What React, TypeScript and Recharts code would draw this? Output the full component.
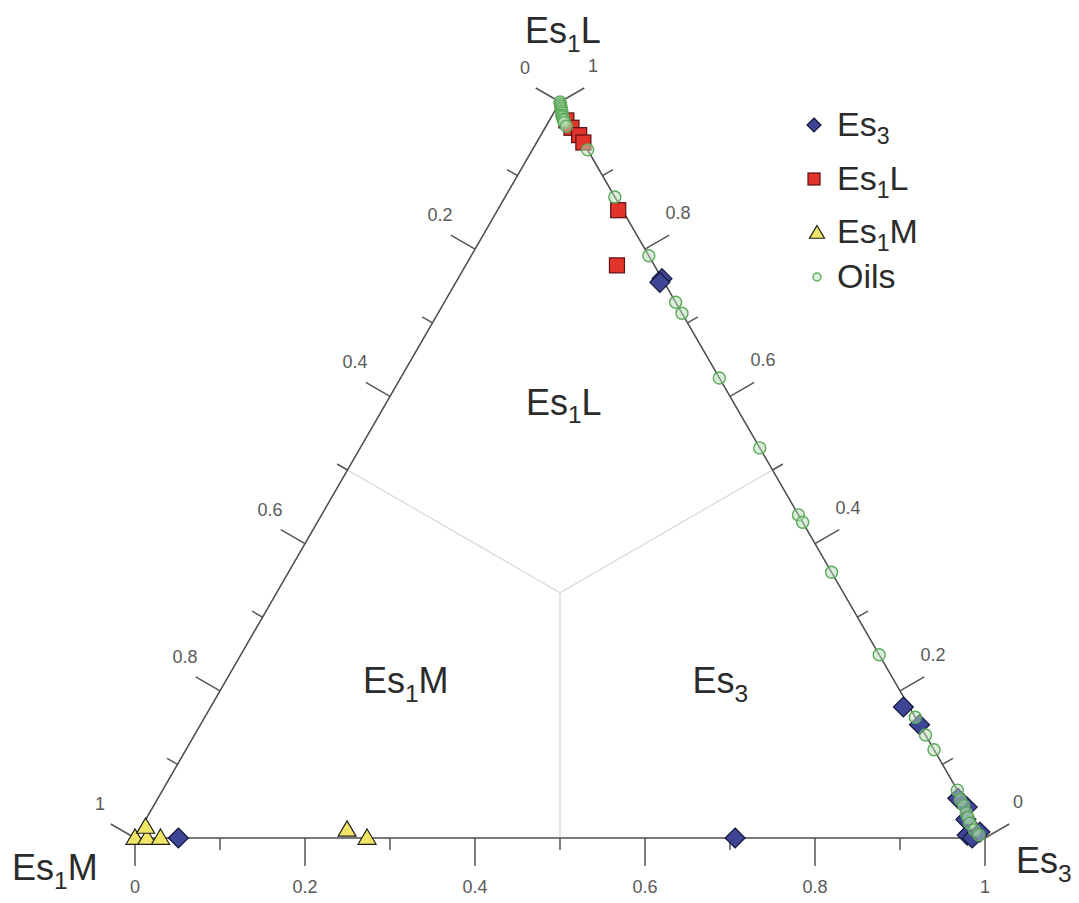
import {
	Legend,
	ReferenceLine,
	Scatter,
	ScatterChart,
	XAxis,
	YAxis,
} from 'recharts';

// Ternary compositions: [Es3, Es1L, Es1M] fractions
const es3Samples: number[][] = [
	[0.051, 0, 0.949],
	[0.706, 0, 0.294],
	[0.24, 0.76, 0],
	[0.24, 0.755, 0.005],
	[0.815, 0.178, 0.007],
	[0.846, 0.154, 0],
	[0.941, 0.054, 0.005],
	[0.958, 0.042, 0],
	[0.965, 0.025, 0.01],
	[0.977, 0.004, 0.019],
	[0.985, 0, 0.015],
	[0.99, 0.008, 0.002],
];

const es1LSamples: number[][] = [
	[0.02, 0.975, 0.005],
	[0.031, 0.965, 0.004],
	[0.045, 0.955, 0],
	[0.055, 0.945, 0],
	[0.142, 0.853, 0.005],
	[0.178, 0.778, 0.044],
];

const es1MSamples: number[][] = [
	[0, 0, 1],
	[0.014, 0, 0.986],
	[0.03, 0, 0.97],
	[0.005, 0.015, 0.98],
	[0.244, 0.011, 0.745],
	[0.273, 0, 0.727],
];

const oilSamples: number[][] = [
	[0, 1, 0],
	[0.002, 0.997, 0.001],
	[0.004, 0.994, 0.002],
	[0.006, 0.991, 0.003],
	[0.008, 0.988, 0.004],
	[0.01, 0.985, 0.005],
	[0.011, 0.982, 0.007],
	[0.013, 0.98, 0.007],
	[0.015, 0.977, 0.008],
	[0.017, 0.975, 0.008],
	[0.019, 0.972, 0.009],
	[0.024, 0.967, 0.009],
	[0.065, 0.935, 0],
	[0.129, 0.871, 0],
	[0.209, 0.791, 0],
	[0.272, 0.728, 0],
	[0.287, 0.713, 0],
	[0.375, 0.625, 0],
	[0.47, 0.53, 0],
	[0.561, 0.439, 0],
	[0.571, 0.429, 0],
	[0.639, 0.361, 0],
	[0.751, 0.249, 0],
	[0.836, 0.164, 0],
	[0.86, 0.14, 0],
	[0.88, 0.12, 0],
	[0.935, 0.065, 0],
	[0.945, 0.052, 0.003],
	[0.953, 0.044, 0.003],
	[0.961, 0.034, 0.005],
	[0.966, 0.028, 0.006],
	[0.972, 0.02, 0.008],
	[0.982, 0.011, 0.007],
	[0.991, 0.004, 0.005],
];

const AXIS_TICKS = [0, 0.1, 0.2, 0.3, 0.4, 0.5, 0.6, 0.7, 0.8, 0.9, 1];
const TICK_LABELS = ['0', '', '0.2', '', '0.4', '', '0.6', '', '0.8', '', '1'];
const LEGEND_ORDER = ['Es3', 'Es1L', 'Es1M', 'Oils'];

const H = Math.sqrt(3) / 2;
const FONT = '"Liberation Sans", Arial, sans-serif';

const toXY = (c: number[]) => ({ x: c[0] + c[1] / 2, y: c[1] * H });

const SIDES: Record<string, { dx: number; dy: number; lx: number; ly: number }> = {
	bottom: { dx: 0, dy: 1, lx: 0, ly: 49 },
	left: { dx: -0.866, dy: -0.5, lx: -35, ly: -34 },
	right: { dx: 0.866, dy: -0.5, lx: 33, ly: -36 },
};

const tickData = [
	...AXIS_TICKS.map((v, i) => ({ ...toXY([v, 0, 1 - v]), side: 'bottom', label: TICK_LABELS[i] })),
	...AXIS_TICKS.map((v, i) => ({ ...toXY([0, 1 - v, v]), side: 'left', label: TICK_LABELS[i] })),
	...AXIS_TICKS.map((v, i) => ({ ...toXY([1 - v, v, 0]), side: 'right', label: TICK_LABELS[i] })),
];

const vertexLabels = [
	{ ...toXY([0, 1, 0]), base: 'Es', sub: '1', tail: 'L', dx: -35, dy: -59 },
	{ ...toXY([0, 0, 1]), base: 'Es', sub: '1', tail: 'M', dx: -123, dy: 42 },
	{ ...toXY([1, 0, 0]), base: 'Es', sub: '3', tail: '', dx: 31, dy: 35 },
];

const regionLabels = [
	{ ...toXY([0.217, 0.575, 0.208]), base: 'Es', sub: '1', tail: 'L' },
	{ ...toXY([0.22, 0.197, 0.583]), base: 'Es', sub: '1', tail: 'M' },
	{ ...toXY([0.59, 0.197, 0.213]), base: 'Es', sub: '3', tail: '' },
];

const centroid = toXY([1 / 3, 1 / 3, 1 / 3]);
const dividerEnds = [toXY([0, 0.5, 0.5]), toXY([0.5, 0.5, 0]), toXY([0.5, 0, 0.5])];
const corners = [toXY([0, 0, 1]), toXY([1, 0, 0]), toXY([0, 1, 0])];

const SubText = ({ x, y, base, sub, tail, size, anchor }: any) => (
	<text x={x} y={y} fontSize={size} textAnchor={anchor} fill='#2b2b2b' fontFamily={FONT}>
		{base}
		{sub ? (
			<tspan fontSize={size * 0.68} dy={size * 0.24}>
				{sub}
			</tspan>
		) : null}
		{tail ? <tspan dy={-size * 0.24}>{tail}</tspan> : null}
	</text>
);

const Diamond = ({ cx, cy, s = 10 }: any) => (
	<polygon
		points={`${cx},${cy - s} ${cx + s},${cy} ${cx},${cy + s} ${cx - s},${cy}`}
		fill='#3d4594'
		stroke='#15173a'
		strokeWidth={1.2}
	/>
);

const Square = ({ cx, cy, s = 7.5 }: any) => (
	<rect x={cx - s} y={cy - s} width={s * 2} height={s * 2} fill='#e3342c' stroke='#5a1010' strokeWidth={1.2} />
);

const Triangle = ({ cx, cy, s = 9 }: any) => (
	<polygon
		points={`${cx},${cy - s} ${cx + s},${cy + s * 0.7} ${cx - s},${cy + s * 0.7}`}
		fill='#f1e567'
		stroke='#1e1e1e'
		strokeWidth={1.2}
	/>
);

const Ring = ({ cx, cy, r = 6 }: any) => (
	<circle cx={cx} cy={cy} r={r} fill='#b8deb8' fillOpacity={0.5} stroke='#5aaa5a' strokeWidth={1.4} />
);

const TickMark = (props: any) => {
	const { cx, cy, payload } = props;
	const d = SIDES[payload.side];
	const len = payload.label ? 28 : 12;
	return (
		<g>
			<line x1={cx} y1={cy} x2={cx + d.dx * len} y2={cy + d.dy * len} stroke='#555' strokeWidth={1.5} />
			{payload.label ? (
				<text
					x={cx + d.lx}
					y={cy + d.ly}
					textAnchor='middle'
					dominantBaseline='central'
					fontSize={18}
					fill='#5a5a5a'
					fontFamily={FONT}
				>
					{payload.label}
				</text>
			) : null}
		</g>
	);
};

const VertexLabel = (props: any) => {
	const { cx, cy, payload } = props;
	return (
		<SubText
			x={cx + payload.dx}
			y={cy + payload.dy}
			size={36}
			anchor='start'
			base={payload.base}
			sub={payload.sub}
			tail={payload.tail}
		/>
	);
};

const RegionLabel = (props: any) => {
	const { cx, cy, payload } = props;
	return (
		<SubText x={cx} y={cy} size={36} anchor='middle' base={payload.base} sub={payload.sub} tail={payload.tail} />
	);
};

const LEGEND_NAMES: Record<string, { base: string; sub: string; tail: string }> = {
	Es3: { base: 'Es', sub: '3', tail: '' },
	Es1L: { base: 'Es', sub: '1', tail: 'L' },
	Es1M: { base: 'Es', sub: '1', tail: 'M' },
	Oils: { base: 'Oils', sub: '', tail: '' },
};

const LEGEND_ROWS = [25, 79, 132, 177];

const renderLegend = (props: any) => {
	const names = (props.payload || []).map((p: any) => p.value);
	const items = LEGEND_ORDER.filter((n) => names.includes(n));
	return (
		<svg width={180} height={210}>
			{items.map((name, i) => {
				const y = LEGEND_ROWS[i];
				const n = LEGEND_NAMES[name];
				let icon = null;
				if (name === 'Es3') icon = <Diamond cx={14} cy={y} s={7} />;
				if (name === 'Es1L') icon = <Square cx={14} cy={y} s={6} />;
				if (name === 'Es1M') icon = <Triangle cx={17} cy={y + 1} s={7.5} />;
				if (name === 'Oils') icon = <Ring cx={17} cy={y} r={4} />;
				return (
					<g key={name}>
						{icon}
						<SubText x={37} y={y + 11} size={34} anchor='start' base={n.base} sub={n.sub} tail={n.tail} />
					</g>
				);
			})}
		</svg>
	);
};

export default function App() {
	return (
		<div style={{ background: '#fff' }}>
			<ScatterChart width={1071} height={895} margin={{ top: 94, right: 94, bottom: 65, left: 127 }}>
				<XAxis type='number' dataKey='x' domain={[0, 1]} hide />
				<YAxis type='number' dataKey='y' domain={[0, H]} hide />
				{dividerEnds.map((p, i) => (
					<ReferenceLine
						key={`div-${i}`}
						segment={[centroid, p]}
						stroke='#d6d6d6'
						strokeWidth={1.2}
						ifOverflow='visible'
					/>
				))}
				{corners.map((p, i) => (
					<ReferenceLine
						key={`edge-${i}`}
						segment={[p, corners[(i + 1) % 3]]}
						stroke={i === 0 ? '#7a7a7a' : '#4a4a4a'}
						strokeWidth={i === 0 ? 2 : 1.5}
						ifOverflow='visible'
					/>
				))}
				<Scatter data={tickData} shape={TickMark} legendType='none' isAnimationActive={false} />
				<Scatter data={vertexLabels} shape={VertexLabel} legendType='none' isAnimationActive={false} />
				<Scatter data={regionLabels} shape={RegionLabel} legendType='none' isAnimationActive={false} />
				<Scatter name='Es3' data={es3Samples.map(toXY)} shape={Diamond} fill='#3d4594' isAnimationActive={false} />
				<Scatter name='Es1L' data={es1LSamples.map(toXY)} shape={Square} fill='#e3342c' isAnimationActive={false} />
				<Scatter name='Es1M' data={es1MSamples.map(toXY)} shape={Triangle} fill='#f1e567' isAnimationActive={false} />
				<Scatter name='Oils' data={oilSamples.map(toXY)} shape={Ring} fill='#5aaa5a' isAnimationActive={false} />
				<Legend
					layout='horizontal'
					verticalAlign='middle'
					align='center'
					content={renderLegend}
					wrapperStyle={{ left: 792, top: 92, width: 180, height: 210 }}
				/>
			</ScatterChart>
		</div>
	);
}
